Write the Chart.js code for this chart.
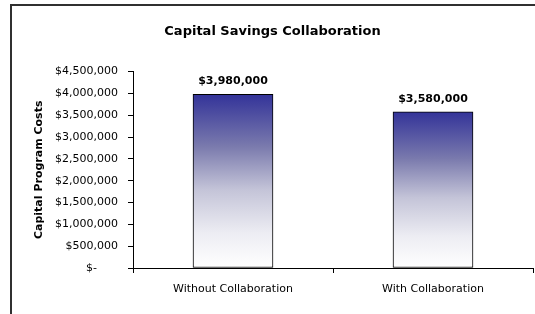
<!DOCTYPE html>
<html>
<head>
<meta charset="utf-8">
<script src="https://cdn.jsdelivr.net/npm/chart.js@4/dist/chart.umd.min.js"></script>
<style>
html,body{margin:0;padding:0;background:#fff;}
#wrap{position:relative;width:535px;height:314px;}
</style>
</head>
<body>
<div id="wrap"><canvas id="c" width="535" height="314"></canvas></div>
<script>
const categories = ["Without Collaboration", "With Collaboration"];
const costs = [3980000, 3580000];
const yTickMin = 0;
const yTickMax = 4500000;
const yTickStep = 500000;
const chartTitle = "Capital Savings Collaboration";
const yAxisTitle = "Capital Program Costs";

function money(v) {
  if (v === 0) return "$-\u00a0\u00a0\u00a0\u00a0\u00a0\u00a0";
  return "$" + v.toLocaleString("en-US");
}

const framePlugin = {
  id: "frame",
  beforeDraw(chart) {
    const c = chart.ctx;
    c.save();
    c.fillStyle = "#fff";
    c.fillRect(0, 0, chart.width, chart.height);
    c.fillStyle = "#303030";
    c.fillRect(10, 4, chart.width - 10, 2);
    c.fillRect(10, 4, 2, chart.height - 4);
    c.restore();
  }
};

const labelPlugin = {
  id: "valueLabels",
  afterDatasetsDraw(chart) {
    const c = chart.ctx;
    const meta = chart.getDatasetMeta(0);
    c.save();
    c.font = "bold 11px 'DejaVu Sans'";
    c.fillStyle = "#000";
    c.textAlign = "center";
    c.textBaseline = "middle";
    meta.data.forEach((bar, i) => {
      c.fillText(money(chart.data.datasets[0].data[i]), bar.x, bar.y - 13);
    });
    c.restore();
  }
};

function barGradient(ctx) {
  const chart = ctx.chart;
  if (!chart.chartArea || ctx.type !== "data") return "#333399";
  const y = chart.scales.y;
  const top = y.getPixelForValue(ctx.raw);
  const bottom = y.getPixelForValue(0);
  const g = chart.ctx.createLinearGradient(0, top, 0, bottom);
  g.addColorStop(0, "#333399");
  g.addColorStop(0.3, "#7a7aad");
  g.addColorStop(0.55, "#c4c4d8");
  g.addColorStop(0.8, "#ededf3");
  g.addColorStop(1, "#ffffff");
  return g;
}

new Chart(document.getElementById("c"), {
  type: "bar",
  data: {
    labels: categories,
    datasets: [{
      data: costs,
      backgroundColor: barGradient,
      borderColor: "#000",
      borderWidth: 1,
      borderSkipped: false,
      barThickness: 80
    }]
  },
  options: {
    responsive: false,
    animation: false,
    devicePixelRatio: 1,
    layout: { padding: { top: 4, left: 12, right: 2, bottom: 0 } },
    plugins: {
      legend: { display: false },
      tooltip: { enabled: false },
      title: {
        display: true,
        text: chartTitle,
        color: "#000",
        font: { family: "DejaVu Sans", size: 13, weight: "bold" },
        padding: { top: 20, bottom: 32 }
      }
    },
    scales: {
      x: {
        grid: { display: true, drawOnChartArea: false, color: "#000", tickLength: 5, offset: true },
        border: { color: "#000", width: 1 },
        ticks: { color: "#000", font: { family: "DejaVu Sans", size: 11 }, padding: 10, maxRotation: 0 },
        afterFit(scale) { scale.height = 46; }
      },
      y: {
        min: yTickMin,
        max: yTickMax,
        grid: { display: true, drawOnChartArea: false, color: "#000", tickLength: 5 },
        border: { color: "#000", width: 1 },
        ticks: {
          stepSize: yTickStep,
          color: "#000",
          font: { family: "DejaVu Sans", size: 11 },
          padding: 10,
          callback: (v) => money(v)
        },
        title: {
          display: true,
          text: yAxisTitle,
          color: "#000",
          font: { family: "DejaVu Sans", size: 11, weight: "bold" },
          padding: { top: 21, bottom: 0 }
        },
        afterFit(scale) { scale.width = 121; }
      }
    }
  },
  plugins: [framePlugin, labelPlugin]
});
</script>
</body>
</html>
